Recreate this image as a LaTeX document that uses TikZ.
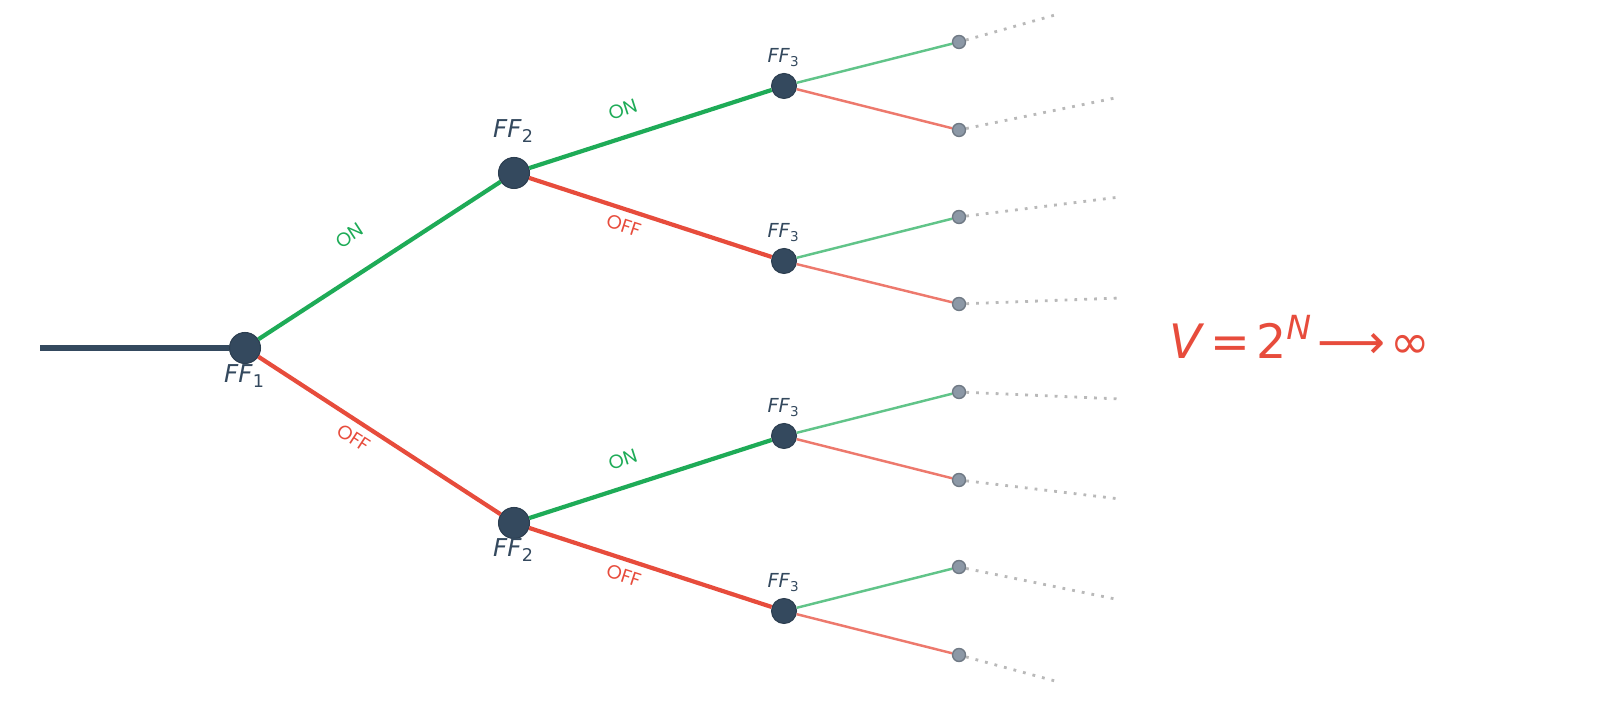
\documentclass[tikz,border=0pt]{standalone}
\usepackage{fontspec}
\setmainfont{DejaVu Sans}
\newfontfamily\swfont{Poppins}
\usetikzlibrary{arrows, arrows.meta}
\definecolor{ffdark}{HTML}{34495E}
\definecolor{ongreen}{HTML}{1EAB57}
\definecolor{offred}{HTML}{E74C3C}
\definecolor{leafgray}{HTML}{8C98A6}

\begin{document}
\begin{tikzpicture}[
  ffbig/.style={circle, fill=ffdark, draw=ffdark!85!black, line width=0.3pt, inner sep=0pt, minimum size=0.31cm},
  ffmid/.style={circle, fill=ffdark, draw=ffdark!85!black, line width=0.3pt, inner sep=0pt, minimum size=0.25cm},
  leaf/.style={circle, fill=leafgray, draw=leafgray!80!black, line width=0.4pt, inner sep=0pt, minimum size=0.13cm},
  onedge/.style={draw=ongreen, line width=1.2pt},
  offedge/.style={draw=offred, line width=1.2pt},
  onthin/.style={draw=ongreen!70!white, line width=0.7pt},
  offthin/.style={draw=offred!75!white, line width=0.7pt},
  tail/.style={draw=gray!55, dotted, line width=0.8pt},
  fflabel/.style={text=ffdark, font=\fontsize{7}{9}\selectfont},
  ffsmall/.style={text=ffdark, font=\fontsize{5.5}{7}\selectfont},
  onlabel/.style={text=ongreen, font=\swfont\fontsize{5.5}{6}\selectfont, inner sep=0.5pt, sloped, above=#1},
  onlabel/.default=4.7pt,
  offlabel/.style={text=offred, font=\swfont\fontsize{5.5}{6}\selectfont, inner sep=0.5pt, sloped, below=1.5pt}
]
\useasboundingbox (0,0) rectangle (16,7.11);

%Flip-flops
\node[ffbig] (ff1) at (2.45,3.63){};
\node[ffbig] (ff2a) at (5.14,5.38){};
\node[ffbig] (ff2b) at (5.14,1.88){};
\node[ffmid] (ff3a) at (7.84,6.25){};
\node[ffmid] (ff3b) at (7.84,4.50){};
\node[ffmid] (ff3c) at (7.84,2.75){};
\node[ffmid] (ff3d) at (7.84,1.00){};

%Names
\node[fflabel] (n1) at (2.45,3.35){\textit{FF}\textsubscript{1}};
\node[fflabel] (n2a) at (5.14,5.80){\textit{FF}\textsubscript{2}};
\node[fflabel] (n2b) at (5.14,1.61){\textit{FF}\textsubscript{2}};
\node[ffsmall] (n3a) at (7.84,6.53){\textit{FF}\textsubscript{3}};
\node[ffsmall] (n3b) at (7.84,4.78){\textit{FF}\textsubscript{3}};
\node[ffsmall] (n3c) at (7.84,3.03){\textit{FF}\textsubscript{3}};
\node[ffsmall] (n3d) at (7.84,1.28){\textit{FF}\textsubscript{3}};

%Input
\coordinate (in) at (0.40,3.63);
\draw[ffdark, line width=1.6pt] (in) -- (ff1);

%First and second level
\draw[onedge] (ff1) -- node[onlabel=7.5pt, pos=0.46]{ON} (ff2a);
\draw[offedge] (ff1) -- node[offlabel, pos=0.43]{OFF} (ff2b);
\draw[onedge] (ff2a) -- node[onlabel, pos=0.42]{ON} (ff3a);
\draw[offedge] (ff2a) -- node[offlabel, pos=0.41]{OFF} (ff3b);
\draw[onedge] (ff2b) -- node[onlabel, pos=0.42]{ON} (ff3c);
\draw[offedge] (ff2b) -- node[offlabel, pos=0.41]{OFF} (ff3d);

%Leaves
\node[leaf] (l1) at (9.59,6.69){};
\node[leaf] (l2) at (9.59,5.81){};
\node[leaf] (l3) at (9.59,4.94){};
\node[leaf] (l4) at (9.59,4.07){};
\node[leaf] (l5) at (9.59,3.19){};
\node[leaf] (l6) at (9.59,2.31){};
\node[leaf] (l7) at (9.59,1.44){};
\node[leaf] (l8) at (9.59,0.56){};

\draw[onthin] (ff3a) -- (l1);
\draw[offthin] (ff3a) -- (l2);
\draw[onthin] (ff3b) -- (l3);
\draw[offthin] (ff3b) -- (l4);
\draw[onthin] (ff3c) -- (l5);
\draw[offthin] (ff3c) -- (l6);
\draw[onthin] (ff3d) -- (l7);
\draw[offthin] (ff3d) -- (l8);

%Tails
\coordinate (t1) at (10.55,6.96);
\coordinate (t2) at (11.20,6.14);
\coordinate (t3) at (11.20,5.14);
\coordinate (t4) at (11.20,4.13);
\coordinate (t5) at (11.20,3.12);
\coordinate (t6) at (11.20,2.12);
\coordinate (t7) at (11.20,1.11);
\coordinate (t8) at (10.55,0.30);
\draw[tail] (l1) -- (t1);
\draw[tail] (l2) -- (t2);
\draw[tail] (l3) -- (t3);
\draw[tail] (l4) -- (t4);
\draw[tail] (l5) -- (t5);
\draw[tail] (l6) -- (t6);
\draw[tail] (l7) -- (t7);
\draw[tail] (l8) -- (t8);

%Growth
\node[text=offred, font=\fontsize{13.5}{16}\selectfont] (growth) at (13.00,3.74){\textit{V}\hspace{0.12em}=\hspace{0.12em}2\textsuperscript{\textit{N}}\hspace{0.1em}⟶\hspace{0.1em}∞};

\end{tikzpicture}
\end{document}
